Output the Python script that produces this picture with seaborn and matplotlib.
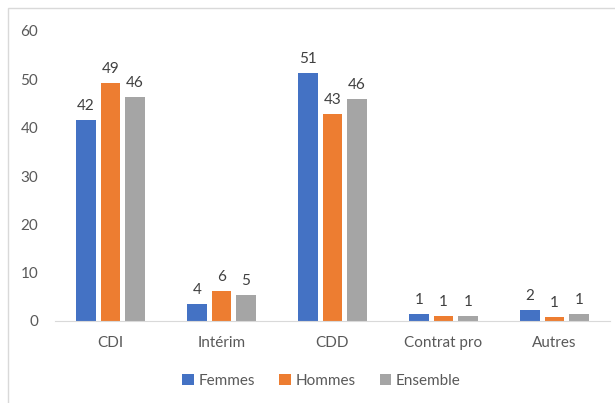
import pandas as pd
import matplotlib.pyplot as plt
import seaborn as sns
from matplotlib.patches import Rectangle

sns.set_style("white")
plt.rcParams['font.family'] = ['Lato', 'DejaVu Sans']

# Data
categories = ["CDI", "Intérim", "CDD", "Contrat pro", "Autres"]
femmes = [41.6, 3.5, 51.4, 1.4, 2.3]
hommes = [49.2, 6.3, 42.9, 1.1, 0.8]
ensemble = [46.4, 5.3, 45.9, 1.1, 1.4]
series = ["Femmes", "Hommes", "Ensemble"]
colors = ["#4472C4", "#ED7D31", "#A5A5A5"]

df = pd.DataFrame({"categorie": categories * 3,
                   "valeur": femmes + hommes + ensemble,
                   "serie": [s for s in series for _ in categories]})

fig = plt.figure(figsize=(6.15, 4.03), dpi=100)
ax = fig.add_axes([55 / 615, 1 - 321 / 403, 555 / 615, 290 / 403])

sns.barplot(data=df, x="categorie", y="valeur", hue="serie", order=categories,
            hue_order=series, palette=colors, width=0.66, gap=0.2,
            saturation=1, linewidth=0, ax=ax)

for cont in ax.containers:
    ax.bar_label(cont, labels=[f"{v:.0f}" for v in cont.datavalues],
                 padding=5, fontsize=11, color="#404040")

ax.set_ylim(0, 60)
ax.set_yticks(range(0, 61, 10))
ax.set_xlabel("")
ax.set_ylabel("")
sns.despine(ax=ax, left=True)
ax.spines["bottom"].set_color("#d9d9d9")
ax.tick_params(axis="both", length=0, labelsize=11, labelcolor="#595959")
ax.tick_params(axis="y", pad=12)
ax.tick_params(axis="x", pad=11)

ax.legend(loc="upper center", bbox_to_anchor=(0.48, -0.135), ncol=3,
          frameon=False, fontsize=11, handlelength=0.75, handleheight=0.75,
          handletextpad=0.3, columnspacing=1.6, labelcolor="#595959")

# chart border (clipped at right and bottom like the reference)
fig.patches.append(Rectangle((8 / 615, -0.1), 1.2, 1 - 8 / 403 + 0.1,
                             transform=fig.transFigure, fill=False,
                             edgecolor="#d9d9d9", linewidth=1))

fig.savefig("out.png", dpi=100)
